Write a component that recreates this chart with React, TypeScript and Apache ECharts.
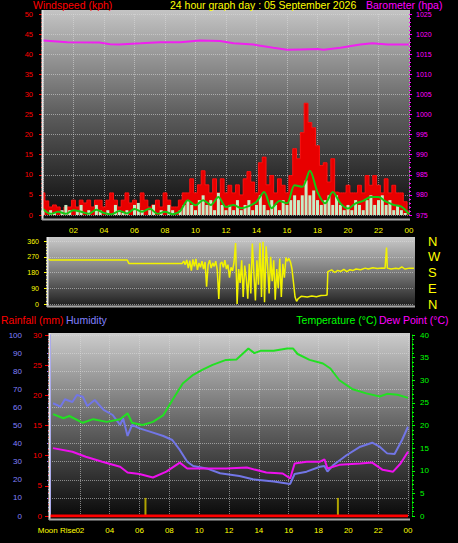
import React, { useEffect, useRef } from "react";
import * as echarts from "echarts";

// ---------- DATA ----------
const GUST_STEP = 0.25; // hours between wind samples
const windGust = [
  5.5, 3.5, 2, 2.5, 2, 0.8, 2, 2, 3.7, 2, 3.7, 3, 3.7, 2, 3.7, 3.7,
  2, 3.7, 5.5, 3.7, 2, 3.7, 5.5, 3, 3.7, 2, 5.5, 3.7, 2, 2.5, 3.7, 2,
  5.5, 3.7, 2, 2, 3.7, 5.5, 5.5, 9, 5.5, 7.5, 11, 7.5, 5.5, 9, 5.5, 9,
  5.5, 7.4, 5.5, 7.5, 5, 9, 10.8, 8.2, 5.5, 13, 14.4, 7.5, 9.8, 5.5, 9, 7.4,
  5.5, 9.8, 16.5, 14, 20.5, 27.8, 23, 21.7, 17.2, 12.3, 13, 8.2, 14, 5.7, 5.5, 5.5,
  7.4, 5.5, 5.5, 7.4, 5.5, 9.8, 7.4, 9.8, 7.4, 5.5, 9, 5.5, 7.4, 5.5, 5.5, 3.3, 1,
];
const windSpeed = [
  1.2, 0, 1.2, 0.5, 0, 1.2, 2.5, 1.2, 0, 1.2, 2.5, 0, 1.2, 0, 2.5, 1.2,
  0, 1.2, 0, 2.5, 1.2, 0.5, 1.2, 0, 2.5, 3, 1.2, 0, 1.2, 2.5, 0, 1.2,
  0, 2.5, 1.2, 0, 1.2, 2.5, 3.7, 2.5, 1.2, 3.7, 4.9, 2.5, 3.7, 1.2, 5.5, 2.5,
  1.2, 2.5, 1.2, 3.7, 1.2, 2.5, 3.7, 1.2, 2.5, 4.9, 2.5, 1.2, 3.7, 2.5, 1.2, 3.7,
  2.5, 3.7, 4.9, 3.7, 4.9, 8.6, 4.9, 6.1, 3.7, 2.5, 3.7, 4.9, 2.5, 4.9, 2.5, 1.2,
  2.5, 1.2, 3.7, 2.5, 1.2, 3.7, 4.9, 2.5, 3.7, 4.9, 2.5, 3.7, 1.2, 2.5, 1.2, 0.5, 0,
];
const AVG_STEP = 0.5;
const windAvg = [
  1.5, 0.3, 0.8, 0.3, 1.2, 0.8, 0.3, 1.3, 0.5, 0.2, 1.0, 0.4, 1.5, 0.8, 1.6, 0.3,
  0.8, 0.2, 1.0, 3.7, 2.4, 3.7, 2.5, 4.5, 2.0, 2.5, 1.7, 2.2, 3.3, 5.7, 1.7, 3.5,
  2.9, 7.4, 7.0, 11.0, 5.7, 2.9, 5.7, 2.9, 1.6, 2.9, 3.5, 4.5, 4.5, 3.3, 2.5, 2.1, 0.2,
];
const barometer: [number, number][] = [
  [0, 1018.4], [1.6, 1018.0], [3.7, 1017.9], [4.4, 1017.5], [5, 1017.4], [6.4, 1017.7],
  [7.7, 1018], [9, 1018], [10.3, 1018.4], [11.6, 1018.3], [12.5, 1017.7], [13.8, 1017.4],
  [15.1, 1016.6], [16, 1016.1], [16.9, 1016.2], [18, 1016.3], [18.4, 1016.1], [19.5, 1016.6],
  [20.8, 1017.4], [21.6, 1017.7], [22.6, 1017.4], [24, 1017.4],
];
const windDir: [number, number][] = [
  [0, 258], [0.15, 251], [5.2, 251], [5.3, 232], [8.8, 232],
  [8.9, 245], [9.0, 225], [9.1, 252], [9.2, 205], [9.3, 248], [9.4, 190], [9.5, 255], [9.6, 215],
  [9.7, 258], [9.8, 195], [9.9, 235], [10.0, 210], [10.1, 245], [10.2, 200], [10.3, 240], [10.4, 99],
  [10.5, 225], [10.6, 250], [10.7, 205], [10.8, 235], [10.9, 215], [11.0, 245], [11.1, 195], [11.2, 29],
  [11.3, 230], [11.4, 240], [11.5, 210], [11.6, 250], [11.7, 200], [11.8, 225], [11.9, 150],
  [12.0, 210], [12.1, 190], [12.2, 240], [12.3, 348], [12.4, 0], [12.5, 200], [12.6, 120], [12.7, 250],
  [12.8, 40], [12.9, 220], [13.0, 150], [13.1, 30], [13.2, 230], [13.3, 60], [13.4, 345], [13.5, 180],
  [13.6, 20], [13.7, 250], [13.8, 110], [13.9, 350], [14.0, 40], [14.1, 355], [14.2, 10], [14.3, 330],
  [14.4, 220], [14.5, 60], [14.6, 270], [14.7, 130], [14.8, 250], [14.9, 25], [15.0, 200], [15.1, 90],
  [15.2, 260], [15.3, 40], [15.4, 230], [15.5, 150], [15.6, 265], [15.7, 245], [15.8, 260], [15.9, 240],
  [16.0, 200], [16.1, 120], [16.2, 40], [16.3, 15], [16.4, 30], [16.6, 44], [17.0, 40], [17.3, 46],
  [17.6, 42], [17.9, 48], [18.2, 50], [18.3, 52], [18.35, 185], [18.6, 195], [18.8, 180], [19.0, 192],
  [19.2, 186], [19.4, 198], [19.6, 185], [19.8, 196], [20.0, 192], [20.2, 200], [20.5, 196], [20.8, 205],
  [21.0, 200], [21.3, 207], [21.6, 203], [21.9, 206], [22.1, 204], [22.2, 322], [22.25, 205], [22.5, 200],
  [22.8, 204], [23.0, 201], [23.2, 212], [23.4, 200], [23.7, 205], [24, 204],
];
const temperature: [number, number][] = [
  [0.2, 22.5], [0.9, 21.6], [1.3, 22.1], [2.2, 20.6], [2.9, 21.4], [3.8, 20.8], [4.7, 21.4],
  [5.2, 22.7], [5.5, 20.6], [6.2, 20.1], [6.9, 20.8], [7.6, 22.3], [8.2, 25.6], [8.9, 29.3],
  [9.6, 31.2], [10.2, 32.3], [10.9, 33.4], [11.8, 34.5], [12.5, 34.6], [13.3, 37.0], [13.7, 36.0],
  [14.1, 36.5], [15.0, 36.5], [15.9, 37.0], [16.3, 37.0], [16.6, 35.8], [17.4, 34.5], [18.3, 33.7],
  [18.8, 32.6], [19.4, 30.0], [20.3, 28.0], [21.2, 27.1], [22.1, 26.4], [22.6, 27.0], [23.3, 26.8], [24, 26.1],
];
const humidity: [number, number][] = [
  [0.2, 62.3], [0.7, 60.4], [1.0, 64.5], [1.5, 63], [1.8, 66.9], [2.2, 65.9], [2.5, 60.8], [3.0, 64.1],
  [3.6, 58.6], [4.2, 55.8], [4.7, 50.3], [4.9, 54], [5.2, 44.2], [5.5, 50.3], [6.0, 48.4], [6.7, 46.6],
  [7.6, 44.2], [8.2, 42], [8.7, 36.5], [9.2, 30], [9.6, 27.6], [10.5, 26.3], [11.4, 23.6], [12.7, 22.1],
  [13.6, 20.3], [15.0, 19], [16.1, 17.7], [16.4, 23.2], [17.2, 24.5], [18.1, 27.2], [18.4, 27.6],
  [18.6, 24.5], [19.0, 28.2], [19.9, 33.7], [20.8, 38.3], [21.6, 40.5], [22.1, 38.3], [22.6, 34.6],
  [23.1, 34.3], [23.6, 42], [24, 49.3],
];
const dewPoint: [number, number][] = [
  [0.2, 15.0], [1.5, 14.2], [2.4, 13.1], [3.5, 12.0], [4.7, 10.9], [5.2, 9.6], [6.0, 9.3], [6.9, 8.5],
  [7.8, 9.8], [8.7, 11.8], [9.2, 10.5], [10.0, 10.5], [11.8, 10.5], [13.2, 10.7], [14.5, 9.6],
  [15.6, 9.4], [16.1, 8.3], [16.4, 11.6], [17.2, 12.0], [18.1, 12.0], [18.4, 12.5], [18.6, 10.5],
  [19.4, 11.3], [20.8, 11.6], [21.6, 11.8], [22.3, 10.2], [23.0, 9.8], [23.5, 11.6], [24, 14.2],
];
const RAIN_STEP = 1;
const rainfall = [0, 0, 0, 0, 0, 0, 0, 0, 0, 0, 0, 0, 0, 0, 0, 0, 0, 0, 0, 0, 0, 0, 0, 0, 0];
const sunMarks: [number, number][] = [[6.4, 3], [19.3, 3]];
const compassLabels: Record<number, string> = { 0: "N", 90: "E", 180: "S", 270: "W", 360: "N" };

// ---------- STYLE ----------
const FONT = '"Liberation Sans", Arial, sans-serif';
const RED = "#ff0000";
const MAG = "#ff00ff";
const YEL = "#ffff00";
const BLUE = "#8080ff";
const GREEN = "#00ff00";
const dotted = { type: "dotted" as const, color: "rgba(220,220,220,0.55)", width: 1 };
const hourFmt = (v: number) => (v === 0 ? "" : String(v % 24).padStart(2, "0"));
const plain = (v: number) => String(v);

const grad = (stops: [number, string][]) => ({
  type: "linear", x: 0, y: 0, x2: 0, y2: 1, colorStops: stops.map(([offset, color]) => ({ offset, color })),
});

function txt(x: number, y: number, text: string, fill: string, fontSize = 11, align = "left") {
  return {
    type: "text", x, y, z: 10,
    style: { text, fill, fontSize, lineHeight: fontSize, fontFamily: FONT, align, verticalAlign: "top" },
  };
}
function ln(x1: number, y1: number, x2: number, y2: number, stroke: string, lineWidth = 2) {
  return { type: "line", z: 10, shape: { x1, y1, x2, y2 }, style: { stroke, lineWidth } };
}

function yAx(extra: any) {
  return {
    type: "value",
    axisLine: { show: false },
    splitLine: { show: false },
    ...extra,
  };
}

function buildOption() {
  const gust = windGust.map((v, i) => [i * GUST_STEP, v]);
  const speed = windSpeed.map((v, i) => [i * GUST_STEP, v]);
  const avg = windAvg.map((v, i) => [i * AVG_STEP, v]);
  const rain = rainfall.map((v, i) => [i * RAIN_STEP, v]);

  return {
    animation: false,
    backgroundColor: "#000000",
    textStyle: { fontFamily: FONT },
    grid: [
      { left: 43, top: 14, width: 366, height: 201, outerBoundsMode: "none" },
      { left: 48, top: 241, width: 366, height: 63, outerBoundsMode: "none" },
      { left: 50, top: 335, width: 358, height: 181, outerBoundsMode: "none" },
    ],
    xAxis: [
      {
        gridIndex: 0, type: "value", min: 0, max: 24, interval: 2,
        axisLine: { show: false }, axisTick: { show: false },
        axisLabel: { color: YEL, fontSize: 8, margin: 11, formatter: hourFmt, fontFamily: FONT },
        splitLine: { show: true, lineStyle: dotted },
      },
      {
        gridIndex: 1, type: "value", min: 0, max: 24, interval: 2,
        axisLine: { show: false }, axisTick: { show: false }, axisLabel: { show: false },
        splitLine: { show: false },
      },
      {
        gridIndex: 2, type: "value", min: 0, max: 24, interval: 2,
        axisLine: { show: false }, axisTick: { show: false },
        axisLabel: { color: YEL, fontSize: 8, margin: 10, formatter: hourFmt, fontFamily: FONT },
        splitLine: { show: true, lineStyle: dotted },
      },
    ],
    yAxis: [
      yAx({
        gridIndex: 0, min: 0, max: 50, interval: 5, position: "left",
        axisTick: { show: true, length: 4, lineStyle: { color: RED } },
        minorTick: { show: true, splitNumber: 5, length: 2, lineStyle: { color: RED } },
        axisLabel: { color: RED, fontSize: 7.5, margin: 10, fontFamily: FONT, formatter: plain },
        splitLine: { show: true, lineStyle: dotted },
      }),
      yAx({
        gridIndex: 0, min: 975, max: 1025, interval: 5, position: "right",
        axisTick: { show: true, length: 3, lineStyle: { color: MAG } },
        minorTick: { show: true, splitNumber: 5, length: 2, lineStyle: { color: MAG } },
        axisLabel: { color: MAG, fontSize: 7, margin: 7, fontFamily: FONT, formatter: plain },
      }),
      yAx({
        gridIndex: 1, min: 0, max: 360, interval: 90, position: "left",
        axisTick: { show: true, length: 4, lineStyle: { color: YEL } },
        minorTick: { show: true, splitNumber: 5, length: 2, lineStyle: { color: YEL } },
        axisLabel: { color: YEL, fontSize: 7, margin: 9, fontFamily: FONT, formatter: plain },
        splitLine: { show: true, lineStyle: dotted },
      }),
      yAx({
        gridIndex: 1, min: 0, max: 360, interval: 90, position: "right",
        axisTick: { show: false },
        axisLabel: { color: YEL, fontSize: 13, margin: 14, fontFamily: FONT, formatter: (v: number) => compassLabels[v] ?? "" },
      }),
      yAx({
        gridIndex: 2, min: 0, max: 100, interval: 10, position: "left", offset: 21,
        axisLine: { show: true, lineStyle: { color: "#7070f0", width: 2 } },
        axisTick: { show: true, length: 3, lineStyle: { color: BLUE } },
        minorTick: { show: true, splitNumber: 4, length: 2, lineStyle: { color: BLUE } },
        axisLabel: { color: BLUE, fontSize: 8, margin: 7, fontFamily: FONT, formatter: plain },
        splitLine: { show: true, lineStyle: dotted },
      }),
      yAx({
        gridIndex: 2, min: 0, max: 30, interval: 5, position: "left", offset: 0,
        axisTick: { show: true, length: 5, lineStyle: { color: RED } },
        minorTick: { show: true, splitNumber: 5, length: 2, lineStyle: { color: RED } },
        axisLabel: { color: RED, fontSize: 8, margin: 8, fontFamily: FONT, formatter: plain },
      }),
      yAx({
        gridIndex: 2, min: 0, max: 40, interval: 5, position: "right", offset: 4,
        axisLine: { show: true, lineStyle: { color: "#00c000", width: 1, type: "dotted" } },
        axisTick: { show: true, length: 3, lineStyle: { color: GREEN } },
        minorTick: { show: true, splitNumber: 5, length: 2, lineStyle: { color: GREEN } },
        axisLabel: { color: GREEN, fontSize: 8, margin: 8, fontFamily: FONT, formatter: plain },
      }),
    ],
    graphic: [
      { type: "rect", z: -1, shape: { x: 42, y: 10, width: 368, height: 210 }, style: { fill: grad([[0, "#c4c4c4"], [0.5, "#5c5c5c"], [1, "#0a0a0a"]]) } },
      { type: "rect", z: -1, shape: { x: 47, y: 237, width: 368, height: 70 }, style: { fill: grad([[0, "#cacaca"], [0.5, "#7a7a7a"], [1, "#1c1c1c"]]) } },
      { type: "rect", z: -1, shape: { x: 49, y: 333, width: 361, height: 187 }, style: { fill: grad([[0, "#cccccc"], [0.5, "#626262"], [1, "#060606"]]) } },
      ln(42.5, 10, 42.5, 220, "#e6e6e6"),
      ln(42, 219.5, 410, 219.5, "#a8a8a8"),
      ln(47.5, 237, 47.5, 307, "#e6e6e6"),
      ln(47, 306.5, 415, 306.5, "#a8a8a8"),
      ln(49.5, 333, 49.5, 520, "#e6e6e6"),
      ln(49, 519.5, 410, 519.5, "#a8a8a8"),
      txt(33, 0, "Windspeed (kph)", RED, 10.5),
      txt(170, 0, "24 hour graph day : 05 September 2026", YEL, 10.5),
      txt(366, 0, "Barometer (hpa)", MAG, 10.5),
      txt(1, 315, "Rainfall (mm)", RED, 10.5),
      txt(66, 315, "Humidity", BLUE, 10.5),
      txt(377, 315, "Temperature (°C)", GREEN, 10.5, "right"),
      txt(379, 315, "Dew Point (°C)", MAG, 10.5),
      txt(76, 526, "Moon Rise", YEL, 8, "right"),
    ],
    series: [
      {
        name: "Gust", type: "line", xAxisIndex: 0, yAxisIndex: 0, data: gust, step: "middle",
        showSymbol: false, z: 2, lineStyle: { color: "#ff1010", width: 1 },
        areaStyle: { color: "#e80000", opacity: 1 },
      },
      {
        name: "Speed", type: "bar", xAxisIndex: 0, yAxisIndex: 0, data: speed, barWidth: 3,
        z: 3, itemStyle: { color: "#c6eec6" },
      },
      {
        name: "Average", type: "line", xAxisIndex: 0, yAxisIndex: 0, data: avg, smooth: 0.3,
        showSymbol: false, z: 4, lineStyle: { color: "#14c814", width: 2 },
      },
      {
        name: "Barometer", type: "line", xAxisIndex: 0, yAxisIndex: 1, data: barometer,
        showSymbol: false, z: 5, lineStyle: { color: "#f020f0", width: 2 },
      },
      {
        name: "Direction", type: "line", xAxisIndex: 1, yAxisIndex: 2, data: windDir,
        showSymbol: false, lineStyle: { color: "#f2f200", width: 1.5 },
      },
      {
        name: "Humidity", type: "line", xAxisIndex: 2, yAxisIndex: 4, data: humidity,
        showSymbol: false, lineStyle: { color: "#7276e6", width: 2 },
      },
      {
        name: "Temperature", type: "line", xAxisIndex: 2, yAxisIndex: 6, data: temperature,
        showSymbol: false, lineStyle: { color: "#22e022", width: 2 },
      },
      {
        name: "Dew Point", type: "line", xAxisIndex: 2, yAxisIndex: 6, data: dewPoint,
        showSymbol: false, lineStyle: { color: "#ee10ee", width: 2 },
      },
      {
        name: "Rainfall", type: "line", xAxisIndex: 2, yAxisIndex: 5, data: rain,
        showSymbol: false, z: 6, lineStyle: { color: "#ff0000", width: 3 },
      },
      {
        name: "Sun", type: "bar", xAxisIndex: 2, yAxisIndex: 5, data: sunMarks, barWidth: 2,
        itemStyle: { color: "#b0a400" },
      },
    ],
  };
}

export default function App() {
  const ref = useRef<HTMLDivElement>(null);
  useEffect(() => {
    document.body.style.margin = "0";
    document.body.style.background = "#000";
    const chart = echarts.init(ref.current!, null, { renderer: "svg" });
    chart.setOption(buildOption() as any);
    return () => chart.dispose();
  }, []);
  return (
    <div
      ref={ref}
      style={{ position: "absolute", left: 0, top: 0, width: 458, height: 543, background: "#000" }}
    />
  );
}
